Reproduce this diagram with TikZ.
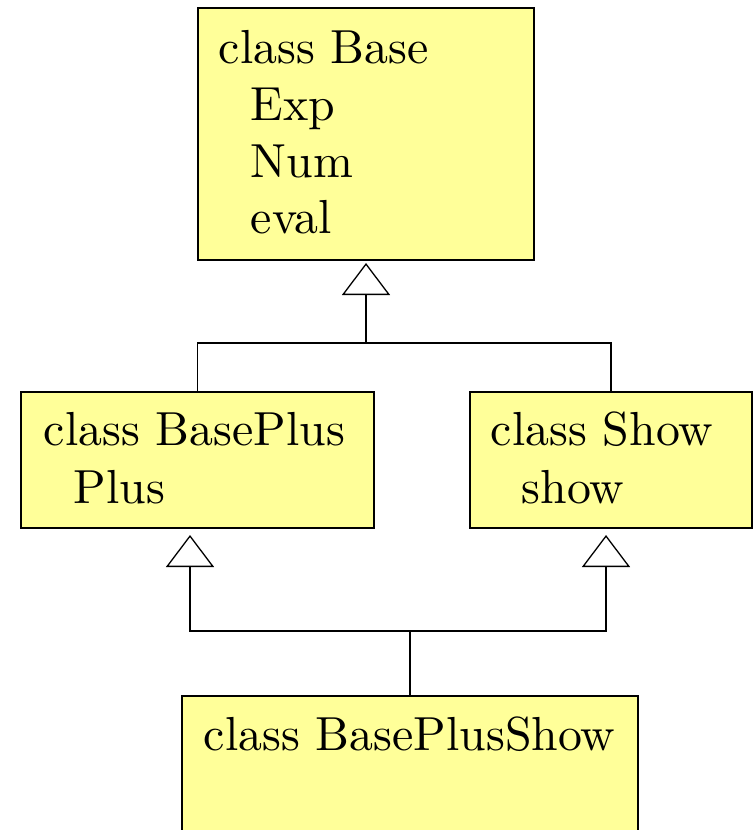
\documentclass[tikz,border=0pt]{standalone}
\usepackage{fontspec}
\setmainfont{Latin Modern Roman}
\usetikzlibrary{arrows.meta}
\definecolor{boxfill}{RGB}{255,255,153}
\begin{document}
\begin{tikzpicture}[x=1pt,y=-1pt,
  classbox/.style={draw, line width=1.6pt, fill=boxfill, anchor=north west, inner sep=0pt, outer sep=0pt},
  classtext/.style={anchor=base west, inner sep=0pt, font=\fontsize{10}{12}\selectfont, scale=4.78, transform shape},
  link/.style={line width=1.6pt},
  inherit/.style={link, -{Triangle[open, length=32pt, width=48pt, line width=1.3pt]}}]
\useasboundingbox (0,0) rectangle (753,830);
% boxes
\node[classbox, minimum width=336pt, minimum height=252pt] (Base) at (198,8) {};
\node[classbox, minimum width=353pt, minimum height=136pt] (BasePlus) at (21,392) {};
\node[classbox, minimum width=282pt, minimum height=136pt] (Show) at (470,392) {};
\node[classbox, minimum width=456pt, minimum height=160pt] (BPS) at (182,696) {};
% texts
\node[classtext] (tBase) at (218,63) {class Base};
\node[classtext] (tExp) at (250,120) {Exp};
\node[classtext] (tNum) at (250,177) {Num};
\node[classtext] (teval) at (250,233) {eval};
\node[classtext] (tBasePlus) at (43,445) {class BasePlus};
\node[classtext] (tPlus) at (73,503) {Plus};
\node[classtext] (tShow) at (490,445) {class Show};
\node[classtext] (tshow) at (521,503) {show};
\node[classtext] (tBPS) at (203,750) {class BasePlusShow};
% connectors
\coordinate (jt) at (366,343);
\draw[link] (BasePlus.north) |- (jt) -| (Show.north);
\draw[inherit, shorten >=3pt] (jt) -- (Base.south);
\coordinate (jb) at (410,631);
\coordinate (aL) at (190,535);
\coordinate (aR) at (606,535);
\draw[link] (BPS.north) -- (jb);
\draw[inherit] (jb) -| (aL);
\draw[inherit] (jb) -| (aR);
\end{tikzpicture}
\end{document}
